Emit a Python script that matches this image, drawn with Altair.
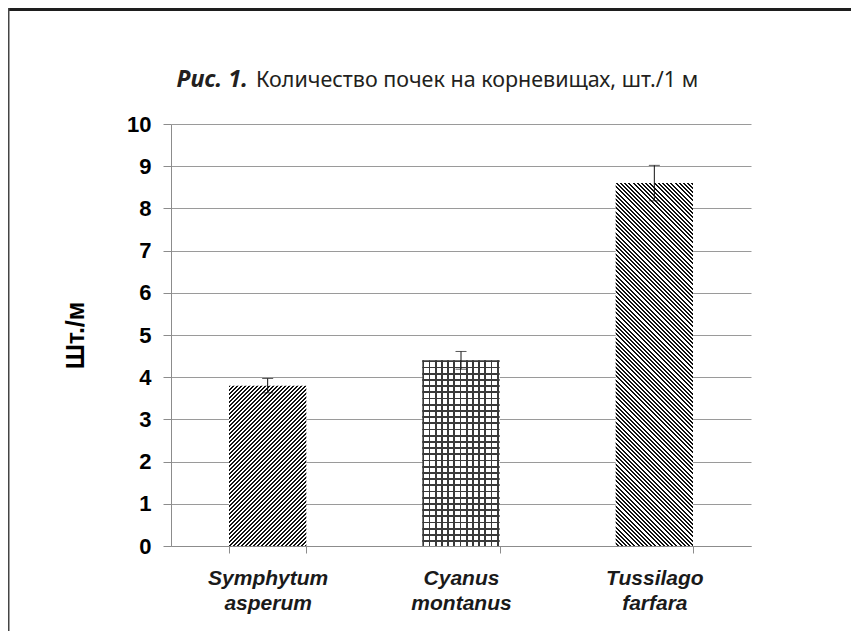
import altair as alt
import pandas as pd

# ---------------- data ----------------
SPECIES = ["Symphytum asperum", "Cyanus montanus", "Tussilago farfara"]
VALUES = [3.8, 4.4, 8.6]
ERRORS = [0.17, 0.21, 0.42]
Y_TICKS = [0, 1, 2, 3, 4, 5, 6, 7, 8, 9, 10]
TITLE_BOLD = "Рис. 1."
TITLE_REST = "Количество почек на корневищах, шт./1 м"
Y_TITLE = "Шт./м"

df = pd.DataFrame({"species": SPECIES, "value": VALUES, "err": ERRORS})
df["lo"] = df["value"] - df["err"]
df["hi"] = df["value"] + df["err"]

# ---------------- layout ----------------
PLOT_W, PLOT_H = 580, 422
Y_MAX = 10
PAD_INNER, PAD_OUTER = 0.6, 0.3
STEP = PLOT_W / (len(SPECIES) - PAD_INNER + 2 * PAD_OUTER)
BAR_W = STEP * (1 - PAD_INNER)
PAD = {"left": 163, "top": 116, "right": 100, "bottom": 85}

AXIS_GREY = "#8c8c8c"
GRID_GREY = "#9a9a9a"
FONT = "Liberation Sans"


def bar_h(v):
    return v / Y_MAX * PLOT_H


def stripe_stops(n, dark, light, duty=0.5):
    stops = []
    k = 0
    while k / n < 1:
        t0 = k / n
        t1 = min((k + duty) / n, 1.0)
        t2 = min((k + 1) / n, 1.0)
        stops += [
            alt.GradientStop(offset=t0, color=dark),
            alt.GradientStop(offset=t1, color=dark),
            alt.GradientStop(offset=t1, color=light),
            alt.GradientStop(offset=t2, color=light),
        ]
        k += 1
    return stops


def diag_pattern(w, h, period, direction):
    lam = (w + h) / (w * w + h * h)
    a, b = lam * w, lam * h
    n = (w + h) / period
    stops = stripe_stops(n, "#111111", "#ffffff")
    if direction == "/":
        return alt.LinearGradient(gradient="linear", stops=stops, x1=0, y1=0, x2=a, y2=b)
    return alt.LinearGradient(gradient="linear", stops=stops, x1=1, y1=0, x2=1 - a, y2=b)


def line_pattern(length, period, width, vertical_lines, light):
    n = length / period
    stops = stripe_stops(n, "#3a3a3a", light, duty=width / period)
    if vertical_lines:
        return alt.LinearGradient(gradient="linear", stops=stops, x1=0, y1=0, x2=1, y2=0)
    return alt.LinearGradient(gradient="linear", stops=stops, x1=0, y1=0, x2=0, y2=1)


x_axis = alt.Axis(
    title=None,
    labelExpr="split(datum.label, ' ')",
    labelFont=FONT,
    labelFontSize=21,
    labelFontWeight="bold",
    labelFontStyle="italic",
    labelColor="#1a1a1a",
    labelLineHeight=25,
    labelPadding=14,
    labelAngle=0,
    tickBand="extent",
    tickSize=7,
    tickColor=AXIS_GREY,
    domainColor=AXIS_GREY,
    grid=False,
)
y_axis = alt.Axis(
    title=Y_TITLE,
    titleFont=FONT,
    titleFontSize=25,
    titleFontWeight="bold",
    titleColor="black",
    titlePadding=38,
    values=Y_TICKS,
    labelFont=FONT,
    labelFontSize=22,
    labelFontWeight="bold",
    labelColor="black",
    labelPadding=12,
    tickSize=8,
    tickColor=AXIS_GREY,
    domainColor=AXIS_GREY,
    gridColor=GRID_GREY,
    grid=True,
)

x_enc = alt.X("species:N", sort=SPECIES, axis=x_axis,
              scale=alt.Scale(paddingInner=PAD_INNER, paddingOuter=PAD_OUTER))
y_scale = alt.Scale(domain=[0, Y_MAX], nice=False)

base = alt.Chart(df)

fills = [
    [diag_pattern(BAR_W, bar_h(VALUES[0]), 4.0, "/")],
    [line_pattern(BAR_W, 6.2, 1.8, True, "#ffffff"),
     line_pattern(bar_h(VALUES[1]), 6.2, 1.8, False, "rgba(255,255,255,0)")],
    [diag_pattern(BAR_W, bar_h(VALUES[2]), 4.2, "\\")],
]

layers = []
for sp, fl in zip(SPECIES, fills):
    for f in fl:
        layers.append(
            base.transform_filter(alt.datum.species == sp)
            .mark_bar(fill=f)
            .encode(x=x_enc, y=alt.Y("value:Q", scale=y_scale, axis=y_axis))
        )

err_rule = base.mark_rule(color="#111111", strokeWidth=1).encode(
    x=x_enc, y=alt.Y("lo:Q", scale=y_scale, axis=y_axis), y2="hi:Q")
cap_lo = base.mark_tick(color="#111111", size=11, thickness=1).encode(
    x=x_enc, y=alt.Y("lo:Q", scale=y_scale, axis=y_axis))
cap_hi = base.mark_tick(color="#111111", size=11, thickness=1).encode(
    x=x_enc, y=alt.Y("hi:Q", scale=y_scale, axis=y_axis))

title_df = pd.DataFrame({"bold": [TITLE_BOLD], "rest": [TITLE_REST]})
title_bold = alt.Chart(title_df).mark_text(
    font="Noto Sans", fontSize=23.5, fontWeight="bold", fontStyle="italic",
    align="right", baseline="alphabetic", color="#231f20",
).encode(x=alt.value(77), y=alt.value(-37), text="bold:N")
title_rest = alt.Chart(title_df).mark_text(
    font="Noto Sans", fontSize=21.5, align="left", baseline="alphabetic", color="#231f20",
).encode(x=alt.value(85), y=alt.value(-37), text="rest:N")

border_top = alt.Chart(title_df).mark_rule(color="#1e1e1e", strokeWidth=3).encode(
    x=alt.value(-PAD["left"]), x2=alt.value(PLOT_W + PAD["right"]), y=alt.value(-PAD["top"] + 1.5))
border_left = alt.Chart(title_df).mark_rule(color="#444444", strokeWidth=3).encode(
    x=alt.value(-PAD["left"]), y=alt.value(-PAD["top"]), y2=alt.value(PLOT_H + PAD["bottom"]))

chart = alt.layer(
    *layers, err_rule, cap_lo, cap_hi, title_bold, title_rest, border_top, border_left
).properties(
    width=PLOT_W, height=PLOT_H,
    autosize=alt.AutoSizeParams(type="none"),
    padding=PAD,
).configure_view(strokeWidth=0)

chart.save("out.html", embed_options={"renderer": "svg", "actions": False})
